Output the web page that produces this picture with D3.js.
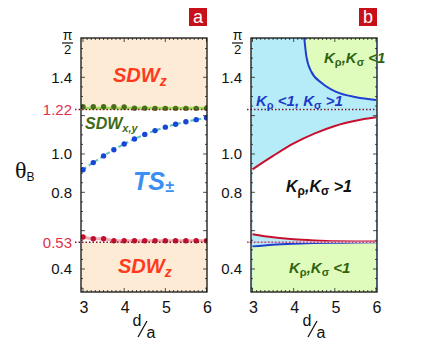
<!DOCTYPE html>
<html>
<head>
<meta charset="utf-8">
<script src="https://cdn.jsdelivr.net/npm/d3@7"></script>
<style>
  body { margin: 0; background: #fff; }
  text { font-family: "Liberation Sans", Arial, sans-serif; }
</style>
</head>
<body>
<div id="chart"></div>
<script>
// sample points along d/a for panel a
var dGrid = [3, 3.25, 3.5, 3.75, 4, 4.25, 4.5, 4.75, 5, 5.25, 5.5, 5.75, 6];
var sdwxyEdge = [1.247, 1.247, 1.247, 1.246, 1.245, 1.239, 1.239, 1.238, 1.238, 1.238, 1.238, 1.238, 1.238];
var tsEdge = [0.918, 0.955, 0.99, 1.022, 1.052, 1.078, 1.102, 1.122, 1.14, 1.155, 1.168, 1.179, 1.189];
var sdwzLowEdge = [0.567, 0.558, 0.558, 0.547, 0.547, 0.547, 0.547, 0.547, 0.547, 0.547, 0.547, 0.547, 0.547];

// panel b curves
var bD = [3, 3.5, 4, 4.5, 5, 5.5, 6];
var upperRed = [0.92, 0.99, 1.055, 1.106, 1.146, 1.173, 1.191];
var lowerRed = [0.581, 0.565, 0.555, 0.549, 0.545, 0.544, 0.543];
var lowerBlue = [0.518, 0.527, 0.532, 0.535, 0.537, 0.538, 0.539];
var upperBlueD = [4.25, 4.31, 4.43, 4.69, 5.02, 5.52, 6];
var upperBlue = [1.62, 1.508, 1.429, 1.369, 1.325, 1.296, 1.282];

// reference lines (drawn value, label)
var refVals = [1.232, 0.539];
var refLabels = ["1.22", "0.53"];

var yTicks = [0.4, 0.8, 1.0, 1.4];
var xTicks = [3, 4, 5, 6];

var width = 436, height = 350;
var yMin = 0.28, yMax = 1.605;
var yTop = 38, yBottom = 292;

var svg = d3.select("#chart").append("svg")
    .attr("width", width)
    .attr("height", height);

var y = d3.scaleLinear().domain([yMin, yMax]).range([yBottom, yTop]);

var panels = [
  {name: "a", x0: 81, x1: 207, x: d3.scaleLinear().domain([3, 6]).range([83, 206.5]), refLabels: true},
  {name: "b", x0: 251, x1: 377, x: d3.scaleLinear().domain([3, 6]).range([252.5, 376]), refLabels: false}
];

// clip paths
panels.forEach(function (p) {
  svg.append("clipPath").attr("id", "clip-" + p.name)
    .append("rect")
    .attr("x", p.x0).attr("y", yTop)
    .attr("width", p.x1 - p.x0).attr("height", yBottom - yTop);
});

var pa = panels[0], pb = panels[1];

// ---------- panel a ----------
var ga = svg.append("g").attr("clip-path", "url(#clip-a)");
ga.append("rect")
    .attr("x", pa.x0).attr("y", yTop)
    .attr("width", pa.x1 - pa.x0).attr("height", y(refVals[0]) - yTop)
    .attr("fill", "#fdebd5");
ga.append("rect")
    .attr("x", pa.x0).attr("y", y(refVals[1]))
    .attr("width", pa.x1 - pa.x0).attr("height", yBottom - y(refVals[1]))
    .attr("fill", "#fdebd5");

// ---------- panel b ----------
var gb = svg.append("g").attr("clip-path", "url(#clip-b)");
gb.append("rect")
    .attr("x", pb.x0).attr("y", yTop)
    .attr("width", pb.x1 - pb.x0).attr("height", yBottom - yTop)
    .attr("fill", "#b6ecf8");

var bPts = bD.map(function (d, i) { return {d: d, hi: upperRed[i], lo: lowerRed[i], lb: lowerBlue[i]}; });
var ubPts = upperBlueD.map(function (d, i) { return {d: d, v: upperBlue[i]}; });

gb.append("path").datum(bPts)
    .attr("fill", "#fff")
    .attr("d", d3.area().curve(d3.curveMonotoneX)
      .x(function (d) { return pb.x(d.d); })
      .y0(function (d) { return y(d.lo); })
      .y1(function (d) { return y(d.hi); }));
gb.append("path").datum(bPts)
    .attr("fill", "#e0fcbc")
    .attr("d", d3.area().curve(d3.curveMonotoneX)
      .x(function (d) { return pb.x(d.d); })
      .y0(yBottom + 5)
      .y1(function (d) { return y(d.lb); }));
gb.append("path").datum(ubPts)
    .attr("fill", "#e0fcbc")
    .attr("d", d3.area().curve(d3.curveMonotoneX)
      .x(function (d) { return pb.x(d.d); })
      .y0(yTop - 5)
      .y1(function (d) { return y(d.v); }));

// faint pink line under the lower dotted line in panel b
svg.append("line")
    .attr("x1", pb.x0 - 4).attr("x2", pb.x1)
    .attr("y1", y(refVals[1])).attr("y2", y(refVals[1]))
    .attr("stroke", "#f4b0c0").attr("stroke-width", 1.5);

// curves in panel b
var lineB = d3.line().curve(d3.curveMonotoneX).x(function (d) { return pb.x(d.d); });
gb.append("path").datum(bPts).attr("fill", "none")
    .attr("stroke", "#1f3fd0").attr("stroke-width", 2)
    .attr("d", lineB.y(function (d) { return y(d.lb); }));
gb.append("path").datum(bPts).attr("fill", "none")
    .attr("stroke", "#c8102e").attr("stroke-width", 2)
    .attr("d", lineB.y(function (d) { return y(d.lo); }));
gb.append("path").datum(bPts).attr("fill", "none")
    .attr("stroke", "#c8102e").attr("stroke-width", 2)
    .attr("d", lineB.y(function (d) { return y(d.hi); }));
gb.append("path").datum(ubPts).attr("fill", "none")
    .attr("stroke", "#1f3fd0").attr("stroke-width", 2)
    .attr("d", d3.line().curve(d3.curveMonotoneX)
      .x(function (d) { return pb.x(d.d); })
      .y(function (d) { return y(d.v); }));

// dotted reference lines
panels.forEach(function (p) {
  refVals.forEach(function (v, i) {
    svg.append("line")
      .attr("x1", p.x0 - (p.name == "a" ? 6 : 4)).attr("x2", p.x1)
      .attr("y1", y(v)).attr("y2", y(v))
      .attr("stroke", (p.name == "b" && i == 1) ? "#8a5a9a" : "#7a1a2e")
      .attr("stroke-width", 1.5)
      .attr("stroke-dasharray", "1.5,2");
  });
});

// panel a boundary lines & dots
var aPts = dGrid.map(function (d, i) { return {d: d, g: sdwxyEdge[i], t: tsEdge[i], r: sdwzLowEdge[i]}; });
var lineA = d3.line().curve(d3.curveMonotoneX).x(function (d) { return pa.x(d.d); });

ga.append("path").datum(aPts).attr("fill", "none")
    .attr("stroke", "#9fe05a").attr("stroke-width", 3)
    .attr("d", lineA.y(function (d) { return y(d3.min(sdwxyEdge)); }));
ga.append("path").datum(aPts).attr("fill", "none")
    .attr("stroke", "#f4a8b4").attr("stroke-width", 3)
    .attr("d", lineA.y(function (d) { return y(d.r); }));
ga.append("path").datum(aPts).attr("fill", "none")
    .attr("stroke", "#5cc4c0").attr("stroke-width", 2)
    .attr("stroke-dasharray", "4,3")
    .attr("d", lineA.y(function (d) { return y(d.t); }));

[["g", "#4a6e1c"], ["t", "#1846d6"], ["r", "#c0102a"]].forEach(function (s) {
  ga.selectAll("circle.c" + s[0])
    .data(aPts)
    .enter()
    .append("circle")
    .attr("class", "c" + s[0])
    .attr("cx", function (d) { return pa.x(d.d); })
    .attr("cy", function (d) { return y(d[s[0]]); })
    .attr("r", 2.7)
    .attr("fill", s[1]);
});

// frames, ticks and labels
panels.forEach(function (p) {
  var g = svg.append("g");
  // minor ticks
  d3.range(0.3, 1.6, 0.05).forEach(function (v) {
    var major = Math.abs(v * 10 - Math.round(v * 10)) < 0.01 && Math.round(v * 10) % 2 == 0;
    var len = major ? 4 : 2;
    g.append("line").attr("x1", p.x0).attr("x2", p.x0 + len)
      .attr("y1", y(v)).attr("y2", y(v)).attr("stroke", "#222").attr("stroke-width", 0.8);
    g.append("line").attr("x1", p.x1).attr("x2", p.x1 - len)
      .attr("y1", y(v)).attr("y2", y(v)).attr("stroke", "#222").attr("stroke-width", 0.8);
  });
  d3.range(3, 6.01, 0.1).forEach(function (v) {
    var major = Math.abs(v - Math.round(v)) < 0.01;
    var len = major ? 4 : 2;
    g.append("line").attr("x1", p.x(v)).attr("x2", p.x(v))
      .attr("y1", yBottom).attr("y2", yBottom - len).attr("stroke", "#222").attr("stroke-width", 0.8);
    g.append("line").attr("x1", p.x(v)).attr("x2", p.x(v))
      .attr("y1", yTop).attr("y2", yTop + len).attr("stroke", "#222").attr("stroke-width", 0.8);
  });
  g.append("rect")
    .attr("x", p.x0).attr("y", yTop)
    .attr("width", p.x1 - p.x0).attr("height", yBottom - yTop)
    .attr("fill", "none").attr("stroke", "#111").attr("stroke-width", 1.3);

  // y tick labels
  var lx = p.x0 - 9;
  g.selectAll("text.yt").data(yTicks).enter().append("text")
    .attr("x", lx).attr("y", function (d) { return y(d) + 5.5; })
    .attr("text-anchor", "end")
    .attr("font-size", 15).attr("fill", "#111")
    .text(function (d) { return d.toFixed(1); });
  // pi/2
  g.append("text").attr("x", lx - 4.5).attr("y", 40).attr("text-anchor", "middle")
    .attr("font-size", 14).attr("fill", "#111").text("π");
  g.append("line").attr("x1", lx - 10).attr("x2", lx + 1)
    .attr("y1", 43).attr("y2", 43).attr("stroke", "#111").attr("stroke-width", 1.2);
  g.append("text").attr("x", lx - 4.5).attr("y", 54).attr("text-anchor", "middle")
    .attr("font-size", 13).attr("fill", "#111").text("2");

  if (p.refLabels) {
    g.selectAll("text.rl").data(refVals).enter().append("text")
      .attr("x", lx).attr("y", function (d) { return y(d) + 5.5; })
      .attr("text-anchor", "end")
      .attr("font-size", 15).attr("fill", "#e0304e")
      .text(function (d, i) { return refLabels[i]; });
  }

  // x tick labels
  g.selectAll("text.xt").data(xTicks).enter().append("text")
    .attr("x", function (d) { return p.x(d) + 1; }).attr("y", 313)
    .attr("text-anchor", "middle")
    .attr("font-size", 16).attr("fill", "#111")
    .text(function (d) { return d; });

  // d/a label
  var cx = (p.x0 + p.x1) / 2 - 1;
  g.append("text").attr("x", cx - 6).attr("y", 326).attr("text-anchor", "middle")
    .attr("font-size", 16).attr("fill", "#111").text("d");
  g.append("line").attr("x1", cx - 5).attr("x2", cx + 4)
    .attr("y1", 337).attr("y2", 321).attr("stroke", "#111").attr("stroke-width", 1.3);
  g.append("text").attr("x", cx + 8).attr("y", 338).attr("text-anchor", "middle")
    .attr("font-size", 16).attr("fill", "#111").text("a");

  // panel letter
  g.append("rect").attr("x", p.x1 - 18).attr("y", 8).attr("width", 18).attr("height", 18)
    .attr("fill", "#c8101a");
  g.append("text").attr("x", p.x1 - 9).attr("y", 23).attr("text-anchor", "middle")
    .attr("font-size", 18).attr("fill", "#fff").text(p.name);
});

// axis title
var th = svg.append("text").attr("x", 15).attr("y", 178);
th.append("tspan").attr("font-family", "Liberation Serif, serif").attr("font-size", 24).attr("fill", "#111").text("θ");
th.append("tspan").attr("font-size", 12).attr("dy", 3).attr("fill", "#111").text("B");

// region labels
function label(x, yy, parts, color, size) {
  var t = svg.append("text").attr("x", x).attr("y", yy)
    .attr("fill", color).attr("font-weight", "bold").attr("font-style", "italic")
    .attr("font-size", size);
  parts.forEach(function (pt) {
    var s = t.append("tspan").text(pt[0]);
    if (pt[1]) s.attr("font-size", pt[1]);
    if (pt[2] !== undefined) s.attr("dy", pt[2]);
    if (pt[3]) s.attr("font-style", pt[3]);
  });
  return t;
}
label(113, 82, [["SDW"], ["z", 14, 4]], "#ff3a1e", 20);
label(118, 273, [["SDW"], ["z", 14, 4]], "#ff3a1e", 20);
label(85, 129, [["SDW"], ["x,y", 11, 3]], "#3f6a14", 16);
label(133, 190, [["TS"], ["±", 16, 2]], "#3c8ff0", 25);

label(324, 63, [["K"], ["ρ", 11, 3, "normal"], [",K", null, -3], ["σ", 11, 3, "normal"], [" <1", null, -3]], "#2f6410", 15);
label(256, 106, [["K"], ["ρ", 11, 3, "normal"], [" <1, K", null, -3], ["σ", 11, 3, "normal"], [" >1", null, -3]], "#1c3cc8", 15);
label(286, 192, [["K"], ["ρ", 12, 3, "normal"], [",K", null, -3], ["σ", 12, 3, "normal"], [" >1", null, -3]], "#111", 16);
label(289, 273, [["K"], ["ρ", 11, 3, "normal"], [",K", null, -3], ["σ", 11, 3, "normal"], [" <1", null, -3]], "#2f6410", 15);
</script>
</body>
</html>
